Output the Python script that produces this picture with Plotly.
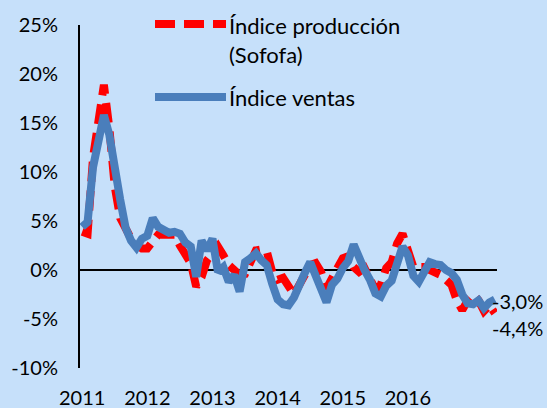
import plotly.graph_objects as go

# Monthly series, Jan 2011 .. May 2017 (% yoy)
months = list(range(77))
produccion = [3.9, 3.7, 11.5, 16.0, 18.9, 14.5, 8.5, 5.3, 4.0, 3.2,
              2.6, 2.2, 2.2, 2.8, 3.6, 3.6, 3.5, 3.6, 2.5, 1.5,
              0.7, -1.7, -0.7, 1.0, 1.7, 2.4, 1.5, 0.5, 0.0, -0.5,
              -0.4, 0.7, 2.0, 2.1, 1.9, -0.2, -1.0, -0.8, -1.7, -2.5,
              -1.5, -0.5, 0.5, 0.7, -0.2, -1.9, -1.0, 0.2, 1.2, 1.4,
              0.3, -0.2, 0.2, -0.8, -2.0, -1.5, 0.2, 0.8, 2.7, 3.7,
              1.7, 0.3, 0.3, 0.3, 0.0, -0.2, -0.5, -1.0, -1.5, -3.1,
              -4.1, -3.1, -2.5, -3.1, -4.2, -3.6, -4.4]
ventas = [4.4, 4.9, 10.5, 13.0, 15.8, 13.8, 9.9, 7.2, 4.3, 3.0,
          2.3, 3.2, 3.5, 5.3, 4.4, 4.2, 3.8, 3.9, 3.7, 2.8,
          2.4, -0.7, 3.0, 2.0, 3.2, -0.2, 0.3, -1.2, -0.5, -2.2,
          0.8, 1.2, 1.7, 1.0, 0.5, -1.4, -3.0, -3.5, -3.6, -2.8,
          -1.3, -0.3, 0.8, -0.5, -1.8, -3.3, -1.5, -0.9, 0.2, 0.9,
          2.6, 1.2, 0.0, -1.0, -2.4, -2.7, -1.6, -1.1, 0.5, 2.4,
          1.5, -0.6, -1.2, -0.2, 0.8, 0.6, 0.5, 0.0, -0.3, -1.0,
          -2.5, -3.4, -3.5, -3.1, -3.9, -3.3, -3.0]
year_ticks = [0, 12, 24, 36, 48, 60]
year_labels = ["2011", "2012", "2013", "2014", "2015", "2016"]
y_ticks = [-10, -5, 0, 5, 10, 15, 20, 25]
y_labels = ["-10%", "-5%", "0%", "5%", "10%", "15%", "20%", "25%"]

RED = "#FF0000"
BLUE = "#4A7EBB"
BG = "#C6E0FA"
FONT = "Lato"

fig = go.Figure()
fig.add_trace(go.Scatter(x=months, y=produccion, mode="lines",
                         line=dict(color=RED, width=8, dash="20px,9px"),
                         name="Índice producción (Sofofa)", showlegend=False))
fig.add_trace(go.Scatter(x=months, y=ventas, mode="lines",
                         line=dict(color=BLUE, width=8),
                         name="Índice ventas", showlegend=False))

def fmt(v):
    return f"{v:.1f}".replace(".", ",") + "%"

fig.add_annotation(x=months[-1], y=ventas[-1], text=fmt(ventas[-1]),
                   showarrow=False, xanchor="left", xshift=-5, yshift=-2,
                   font=dict(family=FONT, size=20, color="black"))
fig.add_annotation(x=months[-1], y=produccion[-1], text=fmt(produccion[-1]),
                   showarrow=False, xanchor="left", xshift=-5, yshift=-15,
                   font=dict(family=FONT, size=20, color="black"))

# legend drawn in paper space
W, H = 547, 408
L, R, T, B = 80, 50, 25, 40
pw, ph = W - L - R, H - T - B
def px(x):
    return (x - L) / pw
def py(y):
    return 1 - (y - T) / ph

fig.add_shape(type="line", xref="paper", yref="paper",
              x0=px(155), x1=px(226), y0=py(24), y1=py(24),
              line=dict(color=RED, width=8, dash="20px,9px"))
fig.add_shape(type="line", xref="paper", yref="paper",
              x0=px(155), x1=px(226), y0=py(97), y1=py(97),
              line=dict(color=BLUE, width=8))
fig.add_annotation(xref="paper", yref="paper", x=px(227), y=py(40),
                   text="Índice producción<br>(Sofofa)", showarrow=False,
                   xanchor="left", yanchor="middle", align="left",
                   font=dict(family=FONT, size=22, color="black"))
fig.add_annotation(xref="paper", yref="paper", x=px(227), y=py(97),
                   text="Índice ventas", showarrow=False,
                   xanchor="left", yanchor="middle", align="left",
                   font=dict(family=FONT, size=22, color="black"))

fig.update_layout(
    width=W, height=H,
    margin=dict(l=L, r=R, t=T, b=B, autoexpand=False),
    paper_bgcolor=BG, plot_bgcolor=BG,
    font=dict(family=FONT, size=20, color="black"),
    showlegend=False,
    xaxis=dict(range=[-0.4, 76.4], tickvals=year_ticks, ticktext=year_labels,
               showgrid=False, zeroline=False, showline=False, automargin=False,
               ticks="", ticklabelstandoff=16),
    yaxis=dict(range=[-10, 25], tickvals=y_ticks, ticktext=y_labels,
               showgrid=False, zeroline=True, zerolinecolor="black",
               zerolinewidth=2, showline=True, linecolor="black", linewidth=2,
               automargin=False, ticks="", ticklabelstandoff=16),
)

fig.write_html("out.html",
               config={"displayModeBar": False},
               post_script="document.body.style.margin='0px';"
                           "document.body.style.overflow='hidden';")
